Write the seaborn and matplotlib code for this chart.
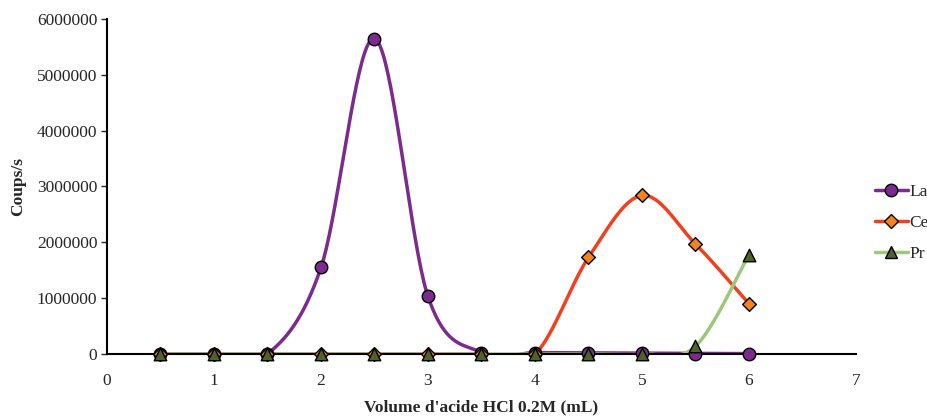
import numpy as np
import pandas as pd
import matplotlib
matplotlib.use("Agg")
import matplotlib.pyplot as plt
import seaborn as sns
from matplotlib.lines import Line2D

volume = [0.5, 1, 1.5, 2, 2.5, 3, 3.5, 4, 4.5, 5, 5.5, 6]
la = [0, 0, 0, 1550000, 5650000, 1030000, 25000, 25000, 20000, 15000, 8000, 8000]
ce = [0, 0, 0, 0, 0, 0, 0, 0, 1730000, 2840000, 1970000, 900000]
pr = [0, 0, 0, 0, 0, 0, 0, 0, 0, 0, 140000, 1780000]
series_names = ["La", "Ce", "Pr"]
y_ticks = [0, 1000000, 2000000, 3000000, 4000000, 5000000, 6000000]
x_ticks = [0, 1, 2, 3, 4, 5, 6, 7]

styles = {
    "La": dict(line="#7B2A8E", face="#7B2A8E", marker="o", ms=9),
    "Ce": dict(line="#F0401E", face="#F58220", marker="D", ms=7),
    "Pr": dict(line="#9DC77A", face="#4F6228", marker="^", ms=9),
}


def smooth(x, y, n=40):
    """Excel-like smoothed bezier through points."""
    x = np.asarray(x, float)
    y = np.asarray(y, float)
    xs, ys = [], []
    m = len(x)
    for i in range(m - 1):
        p0 = np.array([x[max(i - 1, 0)], y[max(i - 1, 0)]])
        p1 = np.array([x[i], y[i]])
        p2 = np.array([x[i + 1], y[i + 1]])
        p3 = np.array([x[min(i + 2, m - 1)], y[min(i + 2, m - 1)]])
        c1 = p1 + (p2 - p0) / 6.0
        c2 = p2 - (p3 - p1) / 6.0
        t = np.linspace(0, 1, n)[:, None]
        pts = ((1 - t) ** 3) * p1 + 3 * ((1 - t) ** 2) * t * c1 + 3 * (1 - t) * t ** 2 * c2 + t ** 3 * p2
        if i > 0:
            pts = pts[1:]
        xs.append(pts[:, 0])
        ys.append(pts[:, 1])
    return np.concatenate(xs), np.concatenate(ys)


sns.set_theme(style="white")
plt.rcParams["font.family"] = ["Liberation Serif", "DejaVu Serif"]

fig = plt.figure(figsize=(9.28, 4.18), dpi=100)
ax = fig.add_axes([107 / 928, 1 - 354 / 418, (856 - 107) / 928, (354 - 19) / 418])

data = {"La": la, "Ce": ce, "Pr": pr}
handles = []
for name in series_names:
    st = styles[name]
    sx, sy = smooth(volume, data[name])
    df_s = pd.DataFrame({"x": sx, "y": sy})
    sns.lineplot(data=df_s, x="x", y="y", ax=ax, color=st["line"], lw=2.5,
                 sort=False, estimator=None, zorder=2)
    df_p = pd.DataFrame({"x": volume, "y": data[name]})
    sns.scatterplot(data=df_p, x="x", y="y", ax=ax, marker=st["marker"],
                    s=st["ms"] ** 2, color=st["face"], edgecolor="black",
                    linewidth=1.0, zorder=3, clip_on=False)
    handles.append(Line2D([], [], color=st["line"], lw=2.5, marker=st["marker"],
                          markersize=st["ms"], markerfacecolor=st["face"],
                          markeredgecolor="black", markeredgewidth=1.0, label=name))

ax.set_xlim(0, 7)
ax.set_ylim(0, 6000000)
ax.set_xticks(x_ticks)
ax.set_xticklabels([str(v) for v in x_ticks])
ax.set_yticks(y_ticks)
ax.set_yticklabels([str(v) for v in y_ticks])
ax.tick_params(axis="y", direction="out", length=4, width=1, labelsize=12.5, pad=3, left=True)
ax.tick_params(axis="x", length=0, labelsize=12.5, pad=14)
for s in ["top", "right"]:
    ax.spines[s].set_visible(False)
for s in ["left", "bottom"]:
    ax.spines[s].set_color("black")
    ax.spines[s].set_linewidth(1.5)

ax.set_xlabel("Volume d'acide HCl 0.2M (mL)", fontsize=12.5, fontweight="bold", labelpad=7)
ax.set_ylabel("Coups/s", fontsize=12.5, fontweight="bold", labelpad=8)

fig.legend(handles=handles, loc="center left", bbox_to_anchor=(868 / 928, 1 - 223 / 418),
           frameon=False, fontsize=12.5, handlelength=1.9, handletextpad=0.1,
           labelspacing=0.85, borderaxespad=0)

fig.savefig("out.png", dpi=100)
